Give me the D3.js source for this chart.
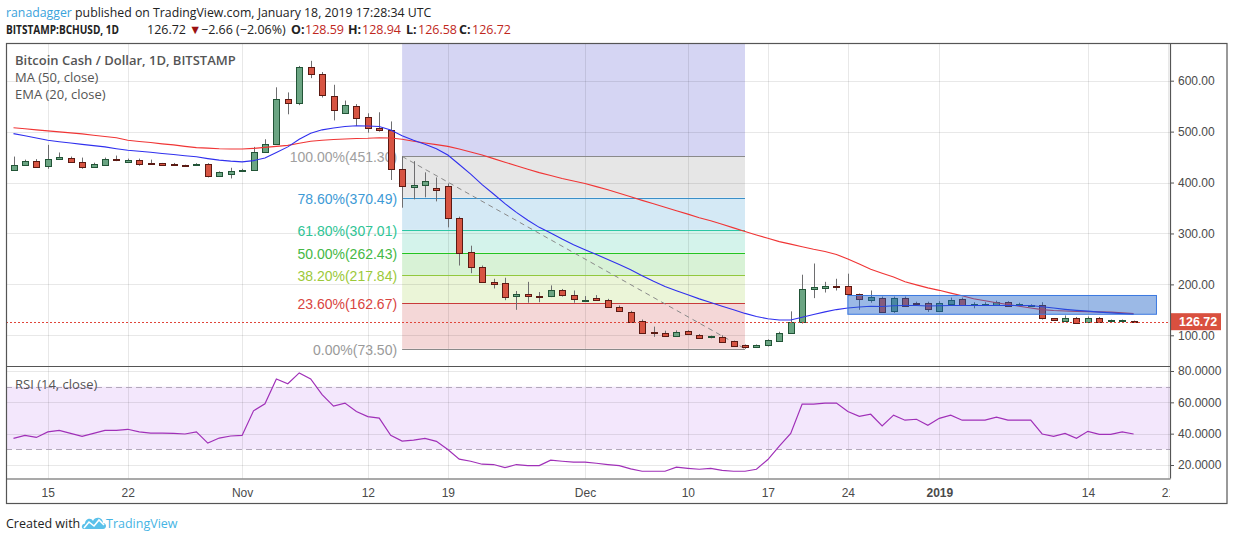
<!DOCTYPE html>
<html><head><meta charset="utf-8">
<script src="https://cdn.jsdelivr.net/npm/d3@7"></script>
<style>
body{margin:0;background:#fff;}
svg{display:block;}
</style></head><body>
<svg id="c" width="1234" height="541"></svg>
<script>
// ---------------- DATA ----------------
const firstDay = "2018-10-12", lastDay = "2019-01-18";
const open = [424,435,443,433,447,449,441,431,435,446,
442,445,439,438,436,434.5,434.5,437,412,417,
423,424,460,476,564,556,627,613,569,537,
551,528,508,504,427,392,396,390,394,330,
263,234,205,203,177,181,178,176,188,179,
168,174,169,156,146,129,106,105,99,108,
101,95.5,97,88,80.5,76,80,90,105,127,
191,193,196,197,181,171,173,147.5,174,163,
162.5,148,163,172,158.6,159,160,166,158.6,158,
160,133,129,134.6,125,134.6,127.5,128,128.59];
const high = [451,445,446,474,459,451,449,439,449,453,
447,447,445,438.5,438.5,435,438,438,422,429,
427,470,485,587,577,629,639,617,592,561,
554,536,538,520,451.3,442,420,410,398,333,
276,237,211,213,187,205,185,198,191,188,
177,179,171.6,158.6,148,131,117,109,109.7,110,
102.5,99.4,100,89.6,82,82,92,107,147,219,
241,205,211,221,182,188,176,176,176,166,
166,167,174,174,165,165,168,167,164,161,
165,134,139,136,137,136,131,131,128.94];
const low = [423,434,430,427,446,440,427,429,434,442,
440,433,435,434,433,433,433,410,411,408,
422,423,458,475,534,552,605,567,522,536,
511,498,500,405,350.6,367,371,363,312,237,
222,204,192,169,150,164,165,175,176,164,
167,168,154.8,147,126,104,97,97,98,101,
94,94,86,78,73.5,75,78,88,104,123,
173,184,188,177,150,164,145,144,158,158.6,
146,147,162,158,153,158,158,158,157,157,
131,129,128,124,124,125,126,127,126.58];
const close = [434,443,431,447,451,441,431,437,446,444,
445,437,436.5,435,434.5,433.5,437,413,420,422,
425.5,459,476,564,556,627,613,572,541,553,
528,507,504,427,394,396,404,386,332,261,
234,205,202,176,181,178,177,188.5,179,172,
170,170,156,148,127,106,105,99,107,103,
95.5,98,88,79,76,80,90,105,127,191,
194,196,194,181,171,176,146,173,159,160.5,
150,164,170,160,161,161,166,159,160.5,160,
135,130,134.6,125,133,126,130,129.38,126.72];
const ma50 = [507.6,505.5,503.5,501.5,499.5,497.5,495.5,493,490.5,488,
483,480.5,478.5,476,474,471,468.5,467.5,466.5,466,
466,467,469,471,473,477,481,483,484.5,485.5,
486.5,487,488,487.5,485,481,477.5,474.5,471,466,
460,454,447,440,433,426,419.5,414,408,403,
398,392,386,379,372,365,358.5,351.5,344.5,338,
331,325,318,311,304,297,290.5,284,279,274,
269,264.6,258.8,250,240.2,229.5,221.7,214.3,205,199,
193.2,188.3,182.8,177.5,171.7,167.8,164,160.5,157.2,153.7,
150.4,148.8,147.8,146.9,146.5,146,145.5,144.1,142.6];
const ema20 = [496,492,487.5,483,480,477.5,475,472.5,470,466.5,
463.5,461.5,459.5,457,455,452.5,450.5,447,444,442,
440.5,443,448,459,470,485,497,503.5,507,510,
511.5,511,510,503,492,483,475,466.5,454,435.5,
416.5,396,377.5,358.5,341.5,326,312,301,289,278,
268,258.5,249,239,228.5,217,206,196,187.5,179.5,
171.5,164.5,157,150,143,137,132.5,130,130,135.5,
141,146,150.5,153.5,155.5,157,156.5,158,158.5,158.5,
157.5,158,158.5,158.5,158.5,158.5,158.5,158.5,158.5,158.5,
156,153.5,151,149,147.5,145.5,144,142.5,141];
const rsi14 = [37.0,38.9,37.6,41.1,42.1,40.2,38.3,40.2,42.1,42.1,
42.8,41.1,40.4,40.4,40.2,39.8,41.1,34.0,37.2,38.5,
38.9,54.6,59.1,74.9,71.9,78.8,74.9,64.9,57.6,59.5,
54.1,50.9,49.9,38.9,35.3,35.9,37.0,35.1,29.9,23.7,
22.4,20.5,20.3,18.3,20.3,19.6,19.6,23.1,22.4,21.8,
21.8,21.1,20.3,19.6,17.5,16.0,16.0,16.0,18.6,17.9,
17.3,17.9,16.6,16.0,16.0,17.3,23.5,32.1,40.2,58.9,
58.9,59.5,59.5,54.1,51.1,52.4,44.9,51.8,48.6,49.2,
45.3,49.8,51.8,48.6,48.6,48.6,50.5,48.6,48.6,48.6,
39.8,38.3,40.2,37.0,41.5,39.6,39.6,41.1,39.8];

const priceTicks = [100,200,300,400,500,600];
const rsiTicks = [20,40,60,80];
const xTickDates = ["2018-10-15","2018-10-22","2018-11-01","2018-11-12","2018-11-19","2018-12-01","2018-12-10","2018-12-17","2018-12-24","2019-01-01","2019-01-14","2019-01-21"];
const xTickLabels = ["15","22","Nov","12","19","Dec","10","17","24","2019","14","21"];

const fibRatios = [1,0.786,0.618,0.5,0.382,0.236,0];
const fibValues = [451.30,370.49,307.01,262.43,217.84,162.67,73.50];
const fibDates = ["2018-11-15","2018-12-15"];
const boxDates = ["2018-12-24","2019-01-20"];
const boxPrices = [178.2,141.3];
const lastPrice = 126.72;

// ---------------- STYLE ----------------
const fibLineColors = ["#8a8a8a","#3a8fc8","#2cc7a4","#22c422","#92c83e","#c83a3a","#8a8a8a"];
const fibTextColors = ["#a0a0a0","#3d9ad6","#2fc495","#45b845","#9cc93a","#d9453f","#9a9a9a"];
const fibFillColors = ["#e6e6e6","#d4e9f5","#d4f3eb","#d8f2d6","#ebf5d8","#f4d7d7"];
const fibTopFill = "#d5d5f3";

const L=6, R=1170, T=43, MB=366, RB=478.5, OB=504, FR=1227.5;
const parse = d3.utcParse("%Y-%m-%d");
const days = d3.utcDay.range(parse(firstDay), d3.utcDay.offset(parse(lastDay),1));

const x = d3.scaleUtc().domain([parse(firstDay), parse(lastDay)]).range([13.5, 1133.6]);
const y = d3.scaleLinear().domain([100,600]).range([335.3, 80.7]);
const yr = d3.scaleLinear().domain([20,80]).range([465, 371]);

const svg = d3.select("#c");
const defs = svg.append("defs");
defs.append("clipPath").attr("id","mainClip").append("rect").attr("x",L).attr("y",T).attr("width",R-L).attr("height",MB-T);
defs.append("clipPath").attr("id","rsiClip").append("rect").attr("x",L).attr("y",MB).attr("width",R-L).attr("height",RB-MB);
defs.append("clipPath").attr("id","xClip").append("rect").attr("x",L).attr("y",RB).attr("width",R-L).attr("height",OB-RB);

const axisFont = "'Liberation Sans', Arial, sans-serif";
const uiFont = "'Open Sans', 'Liberation Sans', sans-serif";

// ---------------- MAIN PANE ----------------
const main = svg.append("g").attr("clip-path","url(#mainClip)");
const fx0 = x(parse(fibDates[0])), fx1 = x(parse(fibDates[1]));
main.append("rect").attr("x",fx0).attr("width",fx1-fx0).attr("y",T).attr("height",y(fibValues[0])-T).attr("fill",fibTopFill);
fibFillColors.forEach((c,k)=>{
  main.append("rect").attr("x",fx0).attr("width",fx1-fx0)
    .attr("y",y(fibValues[k])).attr("height",y(fibValues[k+1])-y(fibValues[k])).attr("fill",c);
});
const grid = main.append("g").attr("stroke","rgba(0,0,0,0.09)").attr("stroke-width",1).attr("shape-rendering","crispEdges");
priceTicks.forEach(v=>grid.append("line").attr("x1",L).attr("x2",R).attr("y1",Math.round(y(v))+0.5).attr("y2",Math.round(y(v))+0.5));
xTickDates.forEach(d=>{const xx=Math.round(x(parse(d)))+0.5; grid.append("line").attr("x1",xx).attr("x2",xx).attr("y1",T).attr("y2",MB);});
fibValues.forEach((v,k)=>{
  const yy = Math.round(y(v))+0.5;
  main.append("line").attr("x1",fx0).attr("x2",fx1).attr("y1",yy).attr("y2",yy).attr("stroke",fibLineColors[k]).attr("stroke-width",1);
  main.append("text").attr("x",fx0-5).attr("y",yy+5).attr("text-anchor","end")
    .attr("font-family",axisFont).attr("font-size",14).attr("fill",fibTextColors[k])
    .text(`${(fibRatios[k]*100).toFixed(2)}%(${v.toFixed(2)})`);
});
main.append("line").attr("x1",fx0).attr("y1",y(fibValues[0])).attr("x2",fx1).attr("y2",y(fibValues[6]))
  .attr("stroke","#8a8a8a").attr("stroke-width",1).attr("stroke-dasharray","5,4");

// candles
const cg = main.append("g");
days.forEach((d,i)=>{
  const cx = Math.round(x(d));
  const up = close[i] >= open[i];
  cg.append("line").attr("x1",cx+0.5).attr("x2",cx+0.5).attr("y1",y(high[i])).attr("y2",y(low[i]))
    .attr("stroke","#6e6e70").attr("stroke-width",1);
  const yt = y(Math.max(open[i],close[i])), yb = y(Math.min(open[i],close[i]));
  cg.append("rect").attr("x",cx-2.5).attr("width",6).attr("y",Math.round(yt)+0.5).attr("height",Math.max(1,Math.round(yb-yt)))
    .attr("fill",up?"#6ba583":"#d75442").attr("stroke",up?"#225437":"#5b1a13").attr("stroke-width",1);
});

// moving averages
const lineGen = arr => d3.line().x((d,i)=>x(days[i])).y(d=>y(d))(arr);
main.append("path").attr("d",lineGen(ma50)).attr("fill","none").attr("stroke","#f03535").attr("stroke-width",1.1);
main.append("path").attr("d",lineGen(ema20)).attr("fill","none").attr("stroke","#3030ee").attr("stroke-width",1.1);

// blue box
const bx0 = x(parse(boxDates[0])), bx1 = x(parse(boxDates[1]));
main.append("rect").attr("x",bx0).attr("width",bx1-bx0).attr("y",y(boxPrices[0])).attr("height",y(boxPrices[1])-y(boxPrices[0]))
  .attr("fill","rgba(33,100,200,0.45)").attr("stroke","#3b78e0").attr("stroke-width",1);

// price line
main.append("line").attr("x1",L).attr("x2",R).attr("y1",Math.round(y(lastPrice))+0.5).attr("y2",Math.round(y(lastPrice))+0.5)
  .attr("stroke","#e0453a").attr("stroke-width",1).attr("stroke-dasharray","2,2");

// legend
const leg = svg.append("g").attr("font-family",uiFont).attr("font-size",13).attr("fill","#555");
leg.append("text").attr("x",15).attr("y",65).attr("font-weight",600).text("Bitcoin Cash / Dollar, 1D, BITSTAMP");
leg.append("text").attr("x",15).attr("y",82).text("MA (50, close)");
leg.append("text").attr("x",15).attr("y",98.5).text("EMA (20, close)");

// ---------------- RSI PANE ----------------
const rp = svg.append("g").attr("clip-path","url(#rsiClip)");
rp.append("rect").attr("x",L).attr("width",R-L).attr("y",yr(70)).attr("height",yr(30)-yr(70)).attr("fill","#f3e7fc");
const rgrid = rp.append("g").attr("stroke","rgba(0,0,0,0.09)").attr("stroke-width",1).attr("shape-rendering","crispEdges");
rsiTicks.forEach(v=>rgrid.append("line").attr("x1",L).attr("x2",R).attr("y1",Math.round(yr(v))+0.5).attr("y2",Math.round(yr(v))+0.5));
xTickDates.forEach(d=>{const xx=Math.round(x(parse(d)))+0.5; rgrid.append("line").attr("x1",xx).attr("x2",xx).attr("y1",MB).attr("y2",RB);});
[70,30].forEach(v=>rp.append("line").attr("x1",L).attr("x2",R).attr("y1",Math.round(yr(v))+0.5).attr("y2",Math.round(yr(v))+0.5)
  .attr("stroke","#b3a9bb").attr("stroke-width",1).attr("stroke-dasharray","6,4"));
rp.append("path").attr("d",d3.line().x((d,i)=>x(days[i])).y(d=>yr(d))(rsi14)).attr("fill","none").attr("stroke","#a030b8").attr("stroke-width",1.2);
svg.append("text").attr("x",15).attr("y",388.5).attr("font-family",uiFont).attr("font-size",13).attr("fill","#555").text("RSI (14, close)");

// ---------------- AXES ----------------
const pAxis = svg.append("g").attr("transform",`translate(${R},0)`)
  .call(d3.axisRight(y).tickValues(priceTicks).tickSize(4).tickPadding(4).tickFormat(d3.format(".2f")));
const rAxis = svg.append("g").attr("transform",`translate(${R},0)`)
  .call(d3.axisRight(yr).tickValues(rsiTicks).tickSize(4).tickPadding(4).tickFormat(d3.format(".4f")));
[pAxis,rAxis].forEach(a=>{
  a.select(".domain").remove();
  a.selectAll(".tick line").attr("stroke","#555");
  a.selectAll(".tick text").attr("font-family",axisFont).attr("font-size",12).attr("fill","#4a4a4a");
});
const xg = svg.append("g").attr("clip-path","url(#xClip)").append("g").attr("transform",`translate(0,${RB})`)
  .call(d3.axisBottom(x).tickValues(xTickDates.map(parse)).tickSize(0).tickPadding(10).tickFormat((d,i)=>xTickLabels[i]));
xg.select(".domain").remove();
xg.selectAll(".tick text").attr("font-family",axisFont).attr("font-size",12).attr("fill","#4a4a4a")
  .attr("font-weight",(d,i)=>xTickLabels[i]==="2019"?"bold":"normal");

// last price label
const ly = y(lastPrice);
svg.append("rect").attr("x",R).attr("y",ly-8.5).attr("width",51).attr("height",17).attr("fill","#d9503f");
svg.append("text").attr("x",R+9).attr("y",ly+4.5).attr("font-family",axisFont).attr("font-size",12.5).attr("font-weight","bold").attr("fill","#fff").text(lastPrice.toFixed(2));

// ---------------- FRAMES ----------------
const fr = svg.append("g").attr("stroke","#555").attr("stroke-width",1.2).attr("fill","none");
fr.append("rect").attr("x",L+0.5).attr("y",T+0.5).attr("width",FR-L-1).attr("height",OB-T-1);
fr.append("line").attr("x1",R+0.5).attr("x2",R+0.5).attr("y1",T).attr("y2",RB);
fr.append("line").attr("x1",L).attr("x2",R).attr("y1",MB+0.5).attr("y2",MB+0.5);
fr.append("line").attr("x1",L).attr("x2",R+0.5).attr("y1",RB+0.5).attr("y2",RB+0.5);

// ---------------- HEADER ----------------
const h1 = svg.append("text").attr("x",6).attr("y",17).attr("font-family",uiFont).attr("font-size",12.3).attr("fill","#222");
h1.append("tspan").attr("fill","#3aa3dc").text("ranadagger");
h1.append("tspan").text(" published on TradingView.com, January 18, 2019 17:28:34 UTC");
const h2 = svg.append("text").attr("y",34).attr("font-family",uiFont).attr("font-size",12.5).attr("fill","#222");
h2.append("tspan").attr("x",6).attr("font-weight","bold").attr("textLength",113).attr("lengthAdjust","spacingAndGlyphs").text("BITSTAMP:BCHUSD, 1D");
h2.append("tspan").attr("x",147).text("126.72");
h2.append("tspan").attr("x",189).attr("fill","#9b1111").text("▼");
h2.append("tspan").attr("x",201).text("−2.66 (−2.06%)");
const ohlc = [["O:","128.59",291,305],["H:","128.94",348,362],["L:","126.58",406,418],["C:","126.72",459,472]];
ohlc.forEach(([k,v,kx,vx])=>{
  h2.append("tspan").attr("x",kx).attr("font-weight","bold").text(k);
  h2.append("tspan").attr("x",vx).attr("fill","#c0271d").text(v);
});

// ---------------- FOOTER ----------------
const ft = svg.append("g");
ft.append("text").attr("x",6).attr("y",528).attr("font-family",uiFont).attr("font-size",12.5).attr("fill","#222").text("Created with");
const logo = ft.append("g").attr("transform","translate(82,515)");
logo.append("path").attr("d","M2,14 C-1,14 -1,9 3,8.5 C3,4 9,2 11,6 C13,1 21,2 21,8 C25,8 25,14 21,14 Z").attr("fill","#5bc1ea");
logo.append("polyline").attr("points","2,13 7,7 12,11 17,5 22,10").attr("fill","none").attr("stroke","#fff").attr("stroke-width",1.6);
ft.append("text").attr("x",106).attr("y",528).attr("font-family",uiFont).attr("font-size",12.5).attr("fill","#45b4e4").text("TradingView");
</script>
</body></html>
